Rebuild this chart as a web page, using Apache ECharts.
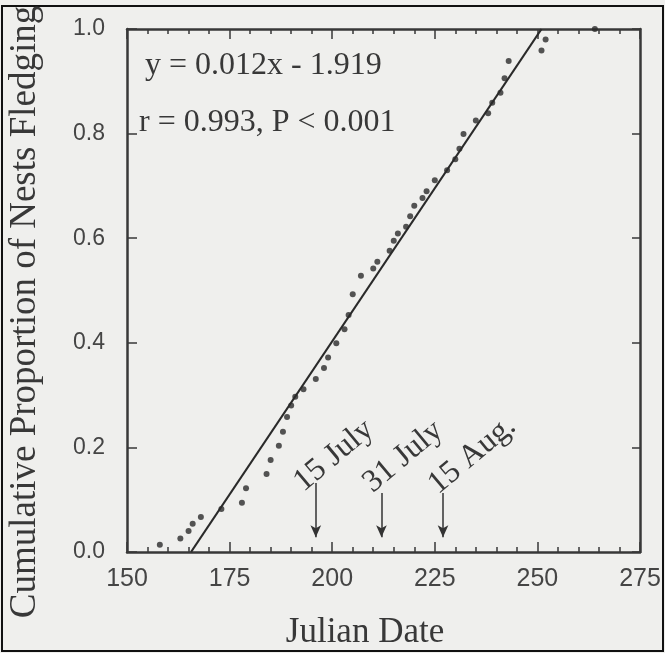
<!DOCTYPE html>
<html><head><meta charset="utf-8">
<script src="https://cdn.jsdelivr.net/npm/echarts@6/dist/echarts.min.js"></script>
<style>html,body{margin:0;padding:0;background:#efefed;}#c{width:665px;height:653px;}</style>
</head><body><div id="c"></div>
<script>
// ---- data ----
const julianDates = [158,163,165,166,168,173,178,179,184,185,187,188,189,190,191,193,196,198,199,201,203,204,205,207,210,211,214,215,216,218,219,220,222,223,225,228,230,231,232,235,238,239,241,242,243,251,252,264];
const cumulativeProportion = [0.014,0.026,0.040,0.054,0.067,0.082,0.094,0.122,0.149,0.176,0.203,0.230,0.258,0.280,0.297,0.311,0.331,0.352,0.372,0.399,0.426,0.453,0.493,0.528,0.542,0.555,0.576,0.595,0.609,0.622,0.642,0.662,0.677,0.690,0.711,0.730,0.751,0.771,0.799,0.825,0.839,0.859,0.878,0.906,0.939,0.959,0.980,1.000];
const fitLineX = [165.6, 251];
const fitLineY = [0, 1];
const xTickLabels = ['150','175','200','225','250','275'];
const yTickLabels = ['0.0','0.2','0.4','0.6','0.8','1.0'];
const eventLabels = ['15 July','31 July','15 Aug.'];
const eventDays = [196, 212, 227];
const arrowTops = [0.132, 0.113, 0.113];
const arrowBottom = 0.028;
const eventLabelX = [200.4, 217.3, 234.1];
const eventLabelY = [0.184, 0.182, 0.185];
const equationText = 'y = 0.012x - 1.919';
const statsText = 'r = 0.993, P < 0.001';
const xTitle = 'Julian Date';
const yTitle = 'Cumulative Proportion of Nests Fledging';

// ---- styling ----
const ink = '#383838';
const serif = '"Liberation Serif", "Times New Roman", serif';
const sans = '"Liberation Sans", Arial, sans-serif';

const chart = echarts.init(document.getElementById('c'), null, {renderer: 'canvas'});

const axisCommonX = {
  type: 'value', min: 150, max: 275, interval: 25,
  axisLine: {show: true, onZero: false, lineStyle: {color: ink, width: 2.5}},
  axisTick: {show: true, inside: true, length: 10, lineStyle: {color: ink, width: 1.5}},
  minorTick: {show: true, splitNumber: 5, length: 5, lineStyle: {color: ink, width: 1.5}},
  splitLine: {show: false}, minorSplitLine: {show: false}
};
const axisCommonY = {
  type: 'value', min: 0, max: 1, interval: 0.2,
  axisLine: {show: true, onZero: false, lineStyle: {color: ink, width: 2.5}},
  axisTick: {show: true, inside: true, length: 10, lineStyle: {color: ink, width: 1.5}},
  splitLine: {show: false}
};

const scatterData = julianDates.map((d, i) => [d, cumulativeProportion[i]]);
const fitData = fitLineX.map((x, i) => [x, fitLineY[i]]);

const option = {
  animation: false,
  backgroundColor: '#efefed',
  grid: {left: 127, top: 29, right: 25, bottom: 101, containLabel: false},
  xAxis: [
    Object.assign({}, axisCommonX, {position: 'bottom',
      axisLabel: {show: true, margin: 15, fontFamily: sans, fontSize: 25, color: '#454545',
        formatter: v => xTickLabels[Math.round((v - 150) / 25)]}}),
    Object.assign({}, axisCommonX, {position: 'top', axisLabel: {show: false}})
  ],
  yAxis: [
    Object.assign({}, axisCommonY, {position: 'left',
      axisLabel: {show: true, margin: 22, fontFamily: sans, fontSize: 23, color: '#454545',
        formatter: v => yTickLabels[Math.round(v / 0.2)]}}),
    Object.assign({}, axisCommonY, {position: 'right', axisTick: {show: true, inside: true, length: 8, lineStyle: {color: ink, width: 1.5}}, axisLabel: {show: false}})
  ],
  series: [
    {type: 'scatter', xAxisIndex: 0, yAxisIndex: 0, data: scatterData,
      symbol: 'circle', symbolSize: 6, itemStyle: {color: '#2a2a2a'}, silent: true},
    {type: 'line', xAxisIndex: 0, yAxisIndex: 0, data: fitData, symbol: 'none',
      lineStyle: {color: '#2a2a2a', width: 2.2}, silent: true,
      markLine: {
        silent: true, symbol: ['none', 'arrow'], symbolSize: [8, 12],
        label: {show: false},
        lineStyle: {color: '#333', width: 1.5, type: 'solid'},
        data: eventDays.map((d, i) => [{coord: [d, arrowTops[i]]}, {coord: [d, arrowBottom]}])
      }}
  ]
};
chart.setOption(option);

const graphics = [
  {type: 'rect', shape: {x: 2, y: 6, width: 661, height: 645},
    style: {fill: 'none', stroke: '#111', lineWidth: 2}, silent: true},
  {type: 'text', x: 145, y: 66, style: {text: equationText, fontFamily: serif, fontSize: 32, fill: ink,
    textAlign: 'left', textVerticalAlign: 'middle', align: 'left', verticalAlign: 'middle'}},
  {type: 'text', x: 139, y: 123, style: {text: statsText, fontFamily: serif, fontSize: 32, fill: ink,
    textAlign: 'left', textVerticalAlign: 'middle', align: 'left', verticalAlign: 'middle'}},
  {type: 'text', x: 365, y: 633, style: {text: xTitle, fontFamily: serif, fontSize: 35, fill: ink,
    textAlign: 'center', textVerticalAlign: 'middle', align: 'center', verticalAlign: 'middle'}},
  {type: 'text', x: 25, y: 312, rotation: Math.PI / 2, style: {text: yTitle, fontFamily: serif, fontSize: 37, fill: ink,
    textAlign: 'center', textVerticalAlign: 'middle', align: 'center', verticalAlign: 'middle'}}
];
eventLabels.forEach((t, i) => {
  const p = chart.convertToPixel({xAxisIndex: 0, yAxisIndex: 0}, [eventLabelX[i], eventLabelY[i]]);
  graphics.push({type: 'text', x: p[0], y: p[1], rotation: 40 * Math.PI / 180,
    style: {text: t, fontFamily: serif, fontSize: 32, fill: ink,
      textAlign: 'center', textVerticalAlign: 'middle', align: 'center', verticalAlign: 'middle'}});
});
chart.setOption({graphic: graphics});
</script>
</body></html>
